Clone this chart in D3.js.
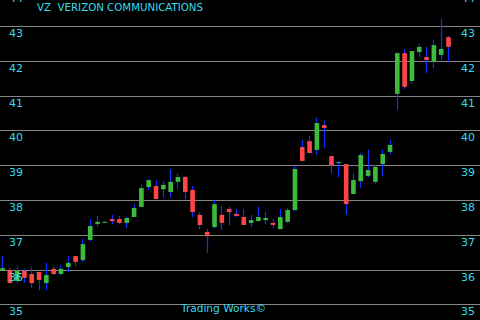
<!DOCTYPE html>
<html>
<head>
<meta charset="utf-8">
<script src="https://cdn.jsdelivr.net/npm/d3@7"></script>
<style>
  html, body { margin: 0; padding: 0; background: #000; overflow: hidden; }
  svg { display: block; }
  text { font-family: "DejaVu Sans", sans-serif; font-size: 11px; fill: #33ddee; }
</style>
</head>
<body>
<div id="chart"></div>
<script>
// daily prices
var opens = [35.96, 35.99, 35.67, 35.96, 35.87, 35.93, 35.61, 36.02, 35.87, 36.07,
  36.39, 36.27, 36.85, 37.31, 37.34, 37.45, 37.45, 37.34, 37.51, 37.80,
  38.37, 38.40, 38.31, 38.23, 38.52, 38.66, 38.29, 37.57, 37.08, 37.22,
  37.57, 37.74, 37.60, 37.51, 37.34, 37.39, 37.42, 37.34, 37.16, 37.37,
  37.71, 39.52, 39.69, 39.44, 40.15, 39.26, 39.06, 39.03, 38.17, 38.54,
  38.69, 38.52, 39.03, 39.38, 41.05, 42.22, 41.42, 42.25, 42.11, 41.97,
  42.17, 42.68];
var highs = [36.39, 36.04, 36.10, 36.02, 36.07, 35.93, 36.19, 36.10, 36.13, 36.39,
  36.39, 36.88, 37.45, 37.54, 37.37, 37.57, 37.54, 37.51, 37.88, 38.43,
  38.60, 38.57, 38.54, 38.89, 38.75, 38.69, 38.40, 37.65, 37.16, 38.00,
  37.83, 37.80, 37.74, 37.74, 37.57, 37.80, 37.65, 37.45, 37.74, 37.77,
  38.98, 39.72, 39.84, 40.36, 40.27, 39.26, 39.09, 39.03, 38.77, 39.35,
  39.44, 39.00, 39.44, 39.72, 42.25, 42.34, 42.28, 42.48, 42.40, 42.60,
  43.20, 42.71];
var lows = [35.96, 35.61, 35.61, 35.61, 35.47, 35.41, 35.41, 35.84, 35.84, 35.93,
  36.10, 36.22, 36.82, 37.22, 37.34, 37.31, 37.31, 37.19, 37.51, 37.80,
  38.29, 38.03, 38.08, 38.08, 38.31, 38.03, 37.51, 37.16, 36.48, 37.19,
  37.14, 37.28, 37.51, 37.28, 37.22, 37.39, 37.31, 37.19, 37.16, 37.34,
  37.68, 39.12, 39.35, 39.29, 39.49, 38.77, 38.66, 37.57, 38.17, 38.34,
  38.66, 38.46, 38.69, 39.32, 40.59, 41.19, 41.33, 42.11, 41.65, 41.79,
  42.02, 41.97];
var closes = [36.04, 35.61, 35.96, 35.76, 35.61, 35.70, 35.84, 35.87, 36.02, 36.19,
  36.22, 36.73, 37.25, 37.37, 37.37, 37.39, 37.34, 37.48, 37.77, 38.34,
  38.57, 38.03, 38.43, 38.52, 38.66, 38.23, 37.65, 37.28, 36.96, 37.88,
  37.34, 37.65, 37.54, 37.28, 37.42, 37.51, 37.48, 37.28, 37.51, 37.71,
  38.89, 39.12, 39.35, 40.21, 40.07, 39.00, 39.09, 37.88, 38.57, 39.29,
  38.86, 38.95, 39.32, 39.58, 42.22, 41.25, 42.28, 42.40, 42.02, 42.45,
  42.34, 42.40];

var priceTicks = [35, 36, 37, 38, 39, 40, 41, 42, 43, 44];
var title = "VZ  VERIZON COMMUNICATIONS";
var footer = "Trading Works\u00a9";

var width = 480;
var height = 320;

var data = opens.map(function(o, i) {
  return { i: i, open: o, high: highs[i], low: lows[i], close: closes[i] };
});

var x = d3.scaleLinear().domain([0, data.length - 1]).range([2, 448]);
var y = d3.scaleLinear().domain([35, 43]).range([304.3, 26]);
var bodyW = 4.6;

var svg = d3
  .select("#chart")
  .append("svg")
  .attr("width", width)
  .attr("height", height);

svg.append("rect").attr("width", width).attr("height", height).attr("fill", "#000");

// grid lines
svg
  .append("g")
  .selectAll("line")
  .data(priceTicks)
  .enter()
  .append("line")
  .attr("x1", 0)
  .attr("x2", width)
  .attr("y1", d => Math.round(y(d)) + 0.5)
  .attr("y2", d => Math.round(y(d)) + 0.5)
  .attr("stroke", "#858585")
  .attr("stroke-width", 1);

// candles
var candle = svg
  .append("g")
  .selectAll("g")
  .data(data)
  .enter()
  .append("g");

candle
  .append("line")
  .attr("x1", d => Math.round(x(d.i)) + 0.5)
  .attr("x2", d => Math.round(x(d.i)) + 0.5)
  .attr("y1", d => y(d.high))
  .attr("y2", d => y(d.low))
  .attr("stroke", "#0a33ff")
  .attr("stroke-width", 1.2);

candle
  .append("rect")
  .attr("x", d => x(d.i) - bodyW / 2 + 0.5)
  .attr("y", d => y(Math.max(d.open, d.close)))
  .attr("width", bodyW)
  .attr("height", d => Math.max(1, y(Math.min(d.open, d.close)) - y(Math.max(d.open, d.close))))
  .attr("fill", d => (d.close >= d.open ? "#3dbb3d" : "#ff4646"));

// price labels, left and right
var labels = svg.append("g");
labels
  .selectAll("text.left")
  .data(priceTicks)
  .enter()
  .append("text")
  .attr("class", "left")
  .attr("x", 9)
  .attr("y", d => y(d) + 11)
  .text(d => d);

labels
  .selectAll("text.right")
  .data(priceTicks)
  .enter()
  .append("text")
  .attr("class", "right")
  .attr("x", 475)
  .attr("y", d => y(d) + 11)
  .attr("text-anchor", "end")
  .text(d => d);

svg
  .append("text")
  .attr("x", 37)
  .attr("y", 11)
  .attr("xml:space", "preserve")
  .attr("textLength", 166)
  .attr("lengthAdjust", "spacingAndGlyphs")
  .text(title);
svg
  .append("text")
  .attr("x", 181)
  .attr("y", 312)
  .attr("textLength", 85)
  .attr("lengthAdjust", "spacingAndGlyphs")
  .text(footer);
</script>
</body>
</html>
